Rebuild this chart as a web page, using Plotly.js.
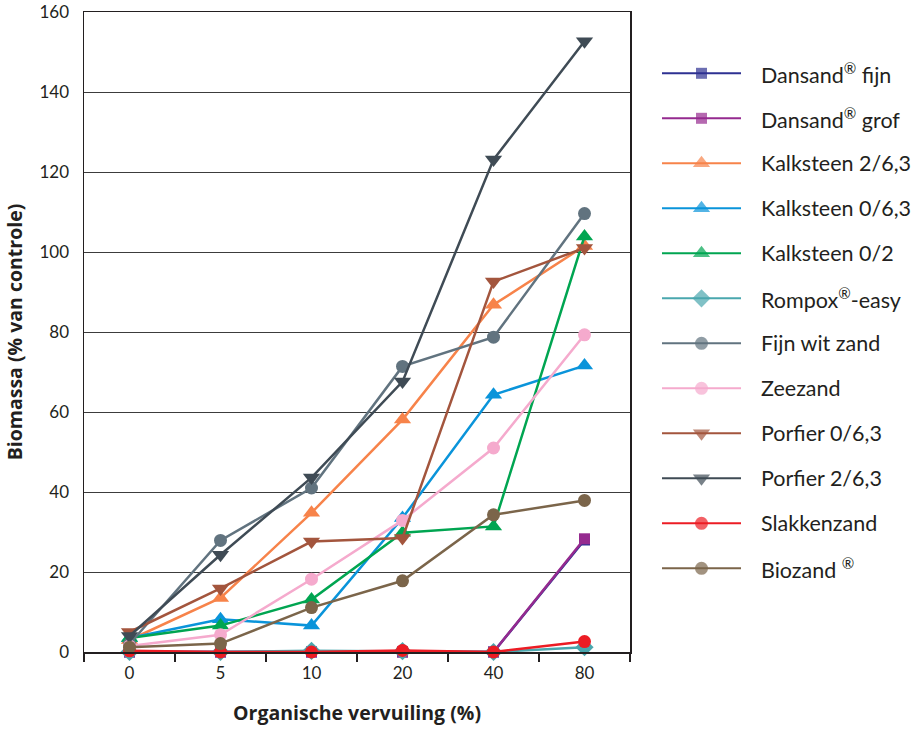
<!DOCTYPE html>
<html>
<head>
<meta charset="utf-8">
<script src="https://cdn.plot.ly/plotly-3.0.1.min.js"></script>
<style>html,body{margin:0;padding:0;background:#fff;}#chart{width:914px;height:729px;}</style>
</head>
<body>
<div id="chart"></div>
<script>
// Categories (x axis tick labels)
var categories = ['0', '5', '10', '20', '40', '80'];

// Series values (Biomassa, % van controle)
var dansandFijn = [0, 0, 0, 0, 0, 28];
var dansandGrof = [0, 0, 0, 0, 0, 28.3];
var kalksteen263 = [3, 13.5, 34.8, 58.1, 86.8, 101.5];
var kalksteen063 = [3.5, 8.2, 6.6, 33.5, 64.3, 71.6];
var kalksteen02 = [3.5, 6.6, 13.1, 29.8, 31.4, 103.9];
var rompox = [0, 0, 0.3, 0.2, 0, 1.2];
var fijnWitZand = [2, 27.9, 41, 71.4, 78.7, 109.6];
var zeezand = [1.5, 4.3, 18.2, 32.9, 51, 79.3];
var porfier063 = [5, 15.9, 27.6, 28.5, 92.6, 101];
var porfier263 = [4, 24.3, 43.6, 67.6, 123.1, 152.7];
var slakkenzand = [0.3, 0, 0, 0.4, 0, 2.6];
var biozand = [1.2, 2.1, 11.1, 17.8, 34.3, 37.9];

var seriesNames = ['Dansand<sup>®</sup> fijn', 'Dansand<sup>®</sup> grof', 'Kalksteen 2/6,3', 'Kalksteen 0/6,3',
  'Kalksteen 0/2', 'Rompox<sup>®</sup>-easy', 'Fijn wit zand', 'Zeezand', 'Porfier 0/6,3', 'Porfier 2/6,3',
  'Slakkenzand', 'Biozand <sup>®</sup>'];
var seriesValues = [dansandFijn, dansandGrof, kalksteen263, kalksteen063, kalksteen02, rompox,
  fijnWitZand, zeezand, porfier063, porfier263, slakkenzand, biozand];

var yTicks = [0, 20, 40, 60, 80, 100, 120, 140, 160];

// Styling
var colors = ['#2e3192', '#952a8f', '#f7834a', '#0a94da', '#00a551', '#4aa7ae',
  '#61737f', '#f5aacd', '#a3553d', '#3f4b55', '#ec1c24', '#7b654a'];
var symbols = ['square', 'square', 'triangle-up', 'triangle-up', 'triangle-up', 'diamond',
  'circle', 'circle', 'triangle-down', 'triangle-down', 'circle', 'circle'];
var sizes = [11, 11, 15, 15, 15, 14, 13, 13, 15, 15, 13, 13];

var textColor = '#231f20';
var fontFamily = 'Lato, "Open Sans", sans-serif';
var titleFamily = '"Open Sans", Lato, sans-serif';

var traces = [];
for (var i = 0; i < seriesValues.length; i++) {
  traces.push({
    type: 'scatter', mode: 'lines+markers',
    x: categories, y: seriesValues[i],
    name: seriesNames[i], showlegend: false,
    line: {color: colors[i], width: 2.5},
    marker: {color: colors[i], symbol: symbols[i], size: sizes[i], line: {width: 0}},
    xaxis: 'x', yaxis: 'y', cliponaxis: false
  });
}

// Custom legend drawn on a hidden secondary axis pair
var annotations = [];
for (var j = 0; j < seriesNames.length; j++) {
  traces.push({
    type: 'scatter', mode: 'lines+markers',
    x: [0, 0.5, 1], y: [j, j, j],
    showlegend: false, hoverinfo: 'skip',
    line: {color: colors[j], width: 2},
    marker: {color: colors[j], symbol: symbols[j], size: [0, sizes[j], 0], line: {width: 0}},
    xaxis: 'x2', yaxis: 'y2', cliponaxis: false
  });
  annotations.push({
    xref: 'x2', yref: 'y2', x: 1.23, y: j, xanchor: 'left', yanchor: 'middle',
    text: seriesNames[j], showarrow: false,
    font: {family: fontFamily, size: 21.5, color: textColor}
  });
}

var plotW = 914 - 84 - 4;
var layout = {
  width: 914, height: 729,
  margin: {l: 84, r: 4, t: 12, b: 77, pad: 0},
  paper_bgcolor: '#ffffff', plot_bgcolor: 'rgba(0,0,0,0)',
  font: {family: fontFamily, color: textColor, size: 17},
  showlegend: false,
  xaxis: {
    type: 'category', domain: [0, 546 / plotW], range: [-0.5, 5.5],
    showgrid: false, zeroline: false,
    showline: true, linecolor: textColor, linewidth: 1.5, mirror: true,
    ticks: 'outside', tickson: 'boundaries', ticklen: 8, tickwidth: 1.2, tickcolor: textColor,
    tickfont: {family: fontFamily, size: 17, color: textColor},
    ticklabelstandoff: 5,
    title: {text: 'Organische vervuiling (%)', standoff: 24,
      font: {family: titleFamily, size: 19.5, color: textColor, weight: 'bold'}},
    automargin: false, fixedrange: true
  },
  yaxis: {
    range: [0, 160], tickvals: yTicks, ticktext: yTicks.map(String),
    showgrid: true, gridcolor: '#3c3c3c', gridwidth: 1, zeroline: false,
    showline: true, linecolor: textColor, linewidth: 1.5, mirror: true,
    ticks: '', ticklabelstandoff: 10,
    tickfont: {family: fontFamily, size: 17, color: textColor},
    title: {text: 'Biomassa (% van controle)', standoff: 11,
      font: {family: titleFamily, size: 19.5, color: textColor, weight: 'bold'}},
    automargin: false, fixedrange: true
  },
  xaxis2: {
    domain: [(662 - 84) / plotW, 1], range: [0, (914 - 4 - 662) / 79],
    anchor: 'y2', visible: false, fixedrange: true
  },
  yaxis2: {
    domain: [0, 1], range: [(652 - 73.3) / 45, (12 - 73.3) / 45],
    anchor: 'x2', visible: false, fixedrange: true
  },
  annotations: annotations
};

Plotly.newPlot('chart', traces, layout, {displayModeBar: false, staticPlot: true});
</script>
</body>
</html>
